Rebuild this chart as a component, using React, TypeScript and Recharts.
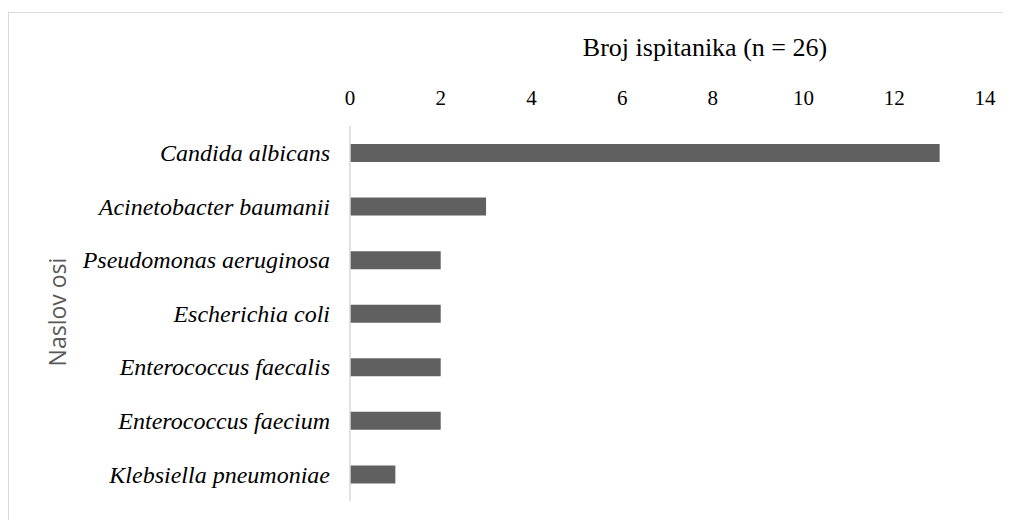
import React from "react";
import { BarChart, Bar, XAxis, YAxis } from "recharts";

const categories = [
  "Candida albicans",
  "Acinetobacter baumanii",
  "Pseudomonas aeruginosa",
  "Escherichia coli",
  "Enterococcus faecalis",
  "Enterococcus faecium",
  "Klebsiella pneumoniae",
];
const counts = [13, 3, 2, 2, 2, 2, 1];
const xTicks = [0, 2, 4, 6, 8, 10, 12, 14];
const xTitle = "Broj ispitanika (n = 26)";
const yTitle = "Naslov osi";

const data = categories.map((name, i) => ({ name, value: counts[i] }));

const serif = "'Liberation Serif', 'Times New Roman', 'DejaVu Serif', serif";
const sans = "'Open Sans', 'Noto Sans', sans-serif";

const CatTick = (props: any) => {
  const { x, y, payload } = props;
  return (
    <text
      x={x}
      y={y}
      dy="0.35em"
      textAnchor="end"
      fill="#000"
      style={{ fontFamily: serif, fontStyle: "italic", fontSize: 24 }}
    >
      {payload.value}
    </text>
  );
};

const NumTick = (props: any) => {
  const { x, y, payload } = props;
  return (
    <text x={x} y={y} textAnchor="middle" fill="#000" style={{ fontFamily: serif, fontSize: 21 }}>
      {payload.value}
    </text>
  );
};

const XTitle = () => (
  <text x={697} y={48} textAnchor="middle" fill="#000" style={{ fontFamily: serif, fontSize: 26 }}>
    {xTitle}
  </text>
);

const YTitle = () => (
  <text
    x={50}
    y={304}
    dy="0.35em"
    textAnchor="middle"
    fill="#595959"
    transform="rotate(-90, 50, 304)"
    style={{ fontFamily: sans, fontSize: 23 }}
  >
    {yTitle}
  </text>
);

export default function App() {
  return (
    <div style={{ position: "relative", width: 1003, height: 512 }}>
      <div
        style={{
          position: "absolute",
          left: 0,
          top: 4,
          width: 1011,
          height: 520,
          border: "1px solid #d9d9d9",
          boxSizing: "border-box",
        }}
      />
      <BarChart
        width={1003}
        height={512}
        data={data}
        layout="vertical"
        margin={{ top: 0, right: 26, bottom: 19, left: 0 }}
        barCategoryGap={0}
        style={{ position: "absolute", left: 0, top: 0 }}
      >
        <XAxis
          type="number"
          orientation="top"
          domain={[0, 14]}
          ticks={xTicks}
          height={118}
          axisLine={false}
          tickLine={false}
          tickSize={0}
          tickMargin={21}
          tick={<NumTick />}
          label={<XTitle />}
        />
        <YAxis
          type="category"
          dataKey="name"
          width={342}
          axisLine={{ stroke: "#d9d9d9", strokeWidth: 1.5 }}
          tickLine={false}
          tickSize={0}
          tickMargin={20}
          tick={<CatTick />}
          label={<YTitle />}
        />
        <Bar dataKey="value" fill="#606060" barSize={18} isAnimationActive={false} />
      </BarChart>
    </div>
  );
}
